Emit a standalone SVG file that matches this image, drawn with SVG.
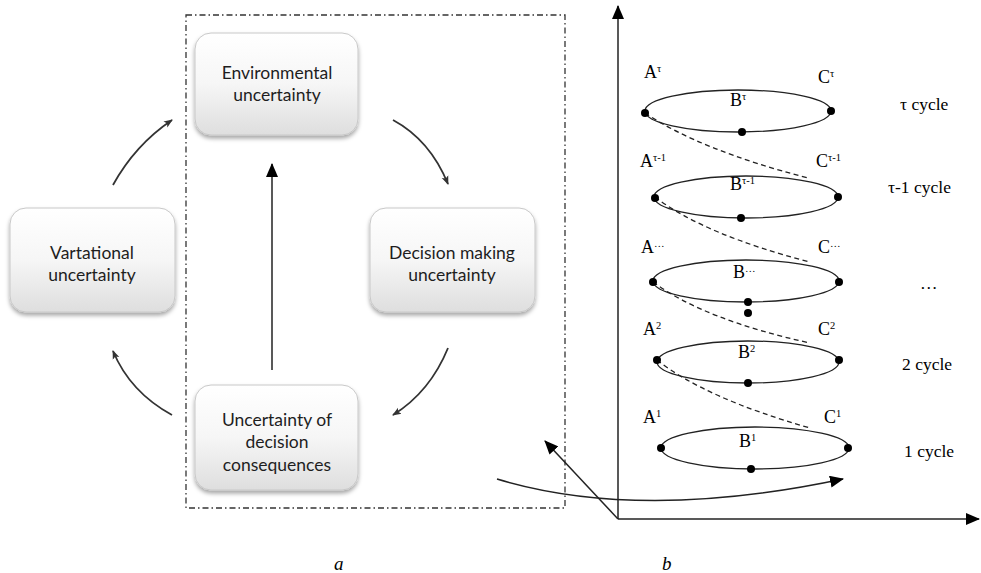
<svg xmlns="http://www.w3.org/2000/svg" width="981" height="573" viewBox="0 0 981 573">
<style>
.box{fill:url(#g);stroke:#c8c8c8;stroke-width:1;filter:url(#sh)}
.bt{font-family:Lato,"Open Sans",sans-serif;font-size:17.5px;fill:#1e1e1e;text-anchor:middle}
.ln{fill:none;stroke:#222;stroke-width:1.5}
.cv{fill:none;stroke:#333;stroke-width:1.8}
.el{fill:none;stroke:#222;stroke-width:1.3}
.ds{fill:none;stroke:#222;stroke-width:1.3;stroke-dasharray:5,3.5}
.dot{fill:#000}
.lb{font-family:"Liberation Serif",serif;font-size:18px;fill:#000}
.sp{font-size:10.5px}
.cy{font-family:"Liberation Serif",serif;font-size:17.5px;fill:#000}
.it{font-family:"Liberation Serif",serif;font-size:19px;font-style:italic;fill:#000}
</style>
<defs>
<linearGradient id="g" x1="0" y1="0" x2="0" y2="1">
<stop offset="0" stop-color="#ffffff"/>
<stop offset="0.5" stop-color="#f6f6f6"/>
<stop offset="1" stop-color="#dedede"/>
</linearGradient>
<filter id="sh" x="-10%" y="-10%" width="120%" height="130%">
<feDropShadow dx="0" dy="3" stdDeviation="2" flood-color="#000" flood-opacity="0.35"/>
</filter>
<marker id="as" markerWidth="9" markerHeight="9" refX="8" refY="4.5" orient="auto" markerUnits="userSpaceOnUse">
<path d="M0,1 L9,4.5 L0,8 L2,4.5 Z" fill="#333"/>
</marker>
<marker id="ab" markerWidth="14" markerHeight="12" refX="13" refY="6" orient="auto" markerUnits="userSpaceOnUse">
<path d="M0,0 L14,6 L0,12 Z" fill="#000"/>
</marker>
</defs>

<rect x="186" y="15" width="379" height="493" fill="none" stroke="#333" stroke-width="1.3" stroke-dasharray="6,3,1.5,3"/>

<g id="connectors">
<path class="ln" d="M272,370 L272,164" marker-end="url(#ab)"/>
<path class="cv" d="M113,185 Q135,145 172,120" marker-end="url(#as)"/>
<path class="cv" d="M393,120 Q430,140 448,184" marker-end="url(#as)"/>
<path class="cv" d="M448,348 Q430,392 393,415" marker-end="url(#as)"/>
<path class="cv" d="M172,415 Q130,392 113,351" marker-end="url(#as)"/>
</g>

<g id="env">
<rect class="box" x="195" y="33" width="163" height="102" rx="16"/>
<text class="bt" x="277" y="79">Environmental</text>
<text class="bt" x="277" y="101">uncertainty</text>
</g>
<g id="vart">
<rect class="box" x="10" y="208" width="165" height="104" rx="16"/>
<text class="bt" x="92" y="259">Vartational</text>
<text class="bt" x="92" y="281">uncertainty</text>
</g>
<g id="dec">
<rect class="box" x="370" y="208" width="165" height="104" rx="16"/>
<text class="bt" x="452" y="259">Decision making</text>
<text class="bt" x="452" y="281">uncertainty</text>
</g>
<g id="cons">
<rect class="box" x="195" y="385" width="163" height="105" rx="16"/>
<text class="bt" x="277" y="426">Uncertainty of</text>
<text class="bt" x="277" y="448">decision</text>
<text class="bt" x="277" y="471">consequences</text>
</g>

<g id="axes">
<path class="ln" d="M618,519 L618,6" marker-end="url(#ab)"/>
<path class="ln" d="M618,519 L979,519" marker-end="url(#ab)"/>
<path class="ln" d="M618,519 L545,441" marker-end="url(#ab)"/>
<path class="ln" d="M497,479 Q640,522 843,479" marker-end="url(#ab)"/>
</g>

<g id="helix">
<path class="ds" d="M645,113 Q700,150 808,178"/>
<path class="ds" d="M655,197 Q705,235 810,262"/>
<path class="ds" d="M653,282 Q705,320 810,343"/>
<path class="ds" d="M657,360 Q705,398 810,428"/>
</g>

<g id="c-tau">
<ellipse class="el" cx="738" cy="111" rx="93" ry="21"/>
<circle class="dot" cx="645" cy="113" r="4"/>
<circle class="dot" cx="831" cy="111" r="4"/>
<circle class="dot" cx="742" cy="132" r="4"/>
<text class="lb" x="644" y="78">A<tspan class="sp" dy="-6">τ</tspan></text>
<text class="lb" x="818" y="83">C<tspan class="sp" dy="-6">τ</tspan></text>
<text class="lb" x="730" y="106">B<tspan class="sp" dy="-6">τ</tspan></text>
<text class="cy" x="900" y="110">τ cycle</text>
</g>
<g id="c-tau1">
<ellipse class="el" cx="746" cy="197" rx="92" ry="21"/>
<circle class="dot" cx="655" cy="198" r="4"/>
<circle class="dot" cx="838" cy="197" r="4"/>
<circle class="dot" cx="741" cy="218" r="4"/>
<text class="lb" x="640" y="167">A<tspan class="sp" dy="-6">τ-1</tspan></text>
<text class="lb" x="816" y="167">C<tspan class="sp" dy="-6">τ-1</tspan></text>
<text class="lb" x="730" y="190">B<tspan class="sp" dy="-6">τ-1</tspan></text>
<text class="cy" x="888" y="193">τ-1 cycle</text>
</g>
<g id="c-dots">
<ellipse class="el" cx="746" cy="281" rx="93" ry="21"/>
<circle class="dot" cx="653" cy="282" r="4"/>
<circle class="dot" cx="839" cy="282" r="4"/>
<circle class="dot" cx="748" cy="302" r="4"/>
<circle class="dot" cx="748" cy="313" r="4"/>
<text class="lb" x="641" y="253">A<tspan class="sp" dy="-6">…</tspan></text>
<text class="lb" x="818" y="253">C<tspan class="sp" dy="-6">…</tspan></text>
<text class="lb" x="733" y="278">B<tspan class="sp" dy="-6">…</tspan></text>
<text class="cy" x="920" y="289">…</text>
</g>
<g id="c-2">
<ellipse class="el" cx="748" cy="362" rx="91" ry="21"/>
<circle class="dot" cx="657" cy="360" r="4"/>
<circle class="dot" cx="839" cy="360" r="4"/>
<circle class="dot" cx="748" cy="383" r="4"/>
<text class="lb" x="643" y="335">A<tspan class="sp" dy="-6">2</tspan></text>
<text class="lb" x="818" y="335">C<tspan class="sp" dy="-6">2</tspan></text>
<text class="lb" x="738" y="358">B<tspan class="sp" dy="-6">2</tspan></text>
<text class="cy" x="902" y="370">2 cycle</text>
</g>
<g id="c-1">
<ellipse class="el" cx="755" cy="448" rx="94" ry="21"/>
<circle class="dot" cx="661" cy="448" r="4"/>
<circle class="dot" cx="848" cy="448" r="4"/>
<circle class="dot" cx="751" cy="469" r="4"/>
<text class="lb" x="643" y="423">A<tspan class="sp" dy="-6">1</tspan></text>
<text class="lb" x="824" y="423">C<tspan class="sp" dy="-6">1</tspan></text>
<text class="lb" x="739" y="447">B<tspan class="sp" dy="-6">1</tspan></text>
<text class="cy" x="904" y="457">1 cycle</text>
</g>

<text class="it" x="334" y="570">a</text>
<text class="it" x="662" y="570">b</text>
</svg>
